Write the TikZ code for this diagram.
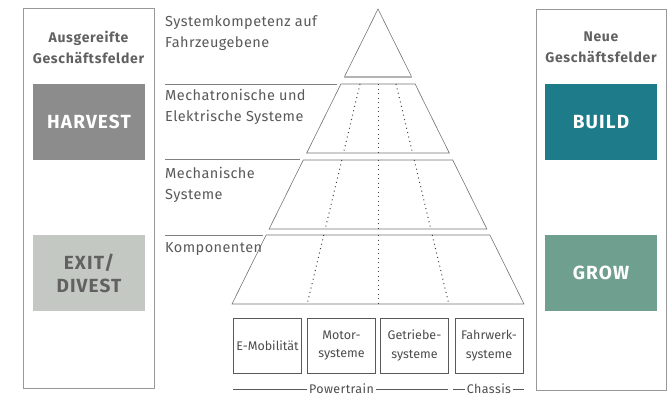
\documentclass[tikz,border=0pt]{standalone}
\usepackage{fontspec}
\setmainfont{Fira Sans}
\newfontfamily\lblfont[LetterSpace=3]{Fira Sans}
\newfontfamily\ttlfont[LetterSpace=5]{Fira Sans}
\newfontfamily\fldfont[LetterSpace=6]{Fira Sans}
\newfontfamily\grpfont[LetterSpace=3]{Fira Sans}
\begin{document}
\begin{tikzpicture}[x=1pt,y=-1pt,
  panel/.style={draw=black!40,line width=0.8pt},
  ptitle/.style={font=\ttlfont\fontsize{14}{21}\selectfont\bfseries,text=black!62,align=center,inner sep=0},
  fieldbox/.style={minimum width=112pt,minimum height=76pt,inner sep=0,font=\fldfont\fontsize{19}{23}\selectfont\bfseries,align=center},
  band/.style={draw=black!55,line width=0.6pt},
  dots/.style={draw=black!75,line width=1pt,dash pattern=on 1pt off 3.5pt},
  lbl/.style={font=\lblfont\fontsize{14.5}{21}\selectfont,text=black!65,align=left,anchor=base west,inner sep=0},
  sep/.style={draw=black!50,line width=1pt},
  sysbox/.style={draw=black!65,line width=0.7pt,minimum width=68pt,minimum height=55pt,inner sep=0,font=\fontsize{12.5}{18.5}\selectfont,text=black!70,align=center},
  grp/.style={font=\grpfont\fontsize{12.5}{13}\selectfont,text=black!70,inner sep=1.5pt},
  grpline/.style={draw=black!65,line width=0.6pt}]
\useasboundingbox (0,0) rectangle (668,396);
% left panel
\node[panel,minimum width=131pt,minimum height=380pt,anchor=north west] (lp) at (23,8) {};
\node[ptitle] (lt) at (88.5,47) {Ausgereifte\\Geschäftsfelder};
\node[fieldbox,fill=black!45,text=white] (harvest) at (89,122) {HARVEST};
\node[fieldbox,fill={rgb,255:red,196;green,200;blue,194},text=black!62] (exit) at (89,273) {EXIT/\\DIVEST};
% right panel
\node[panel,minimum width=130pt,minimum height=381pt,anchor=north west] (rp) at (536,9) {};
\node[ptitle] (rt) at (601,47) {Neue\\Geschäftsfelder};
\node[fieldbox,fill={rgb,255:red,30;green,123;blue,138},text=white] (build) at (601,122) {BUILD};
\node[fieldbox,fill={rgb,255:red,111;green,160;blue,143},text=white] (grow) at (601,273) {GROW};
% pyramid
\coordinate (apex) at (378,9);
\draw[band] (344.3,77) -- (apex) -- (411.7,77);
\draw[draw=black!30,line width=1.6pt] (344.3,77) -- (411.7,77);
\draw[band] (340.9,84) -- (415.1,84) -- (449.3,153) -- (306.7,153) -- cycle;
\draw[band] (303.3,160) -- (452.7,160) -- (486.9,229) -- (269.1,229) -- cycle;
\draw[band] (266.1,235) -- (489.9,235) -- (524,304) -- (232,304) -- cycle;
% dotted division lines
\foreach \ya/\yb in {84/153,160/229,235/304}{
  \draw[dots] (378,\ya) -- (378,\yb);
  \draw[dots] ({378-0.24*(\ya-9)},\ya) -- ({378-0.24*(\yb-9)},\yb);
  \draw[dots] ({378+0.24*(\ya-9)},\ya) -- ({378+0.24*(\yb-9)},\yb);
}
% level labels and separators
\node[lbl] (l1) at (165,48) {Systemkompetenz auf\\Fahrzeugebene};
\draw[sep] (165,84) -- (337,84);
\node[lbl] (l2) at (165,121) {Mechatronische und\\Elektrische Systeme};
\draw[sep] (165,159.5) -- (300,159.5);
\node[lbl] (l3) at (165,199) {Mechanische\\Systeme};
\draw[sep] (165,235) -- (263,235);
\node[lbl] (l4) at (165,252) {Komponenten};
% system boxes
\node[sysbox] (s1) at (267.5,345.5) {E-Mobilität};
\node[sysbox] (s2) at (341.5,345.5) {Motor-\\systeme};
\node[sysbox] (s3) at (414.5,345.5) {Getriebe-\\systeme};
\node[sysbox] (s4) at (489,345.5) {Fahrwerk-\\systeme};
% groups
\node[grp] (pt) at (341.5,389) {Powertrain};
\node[grp] (ch) at (489,389) {Chassis};
\coordinate (ptl) at (233,389);
\coordinate (ptr) at (448,389);
\coordinate (chl) at (453,389);
\coordinate (chr) at (524,389);
\draw[grpline] (ptl) -- (pt.west);
\draw[grpline] (pt.east) -- (ptr);
\draw[grpline] (chl) -- (ch.west);
\draw[grpline] (ch.east) -- (chr);
\end{tikzpicture}
\end{document}
